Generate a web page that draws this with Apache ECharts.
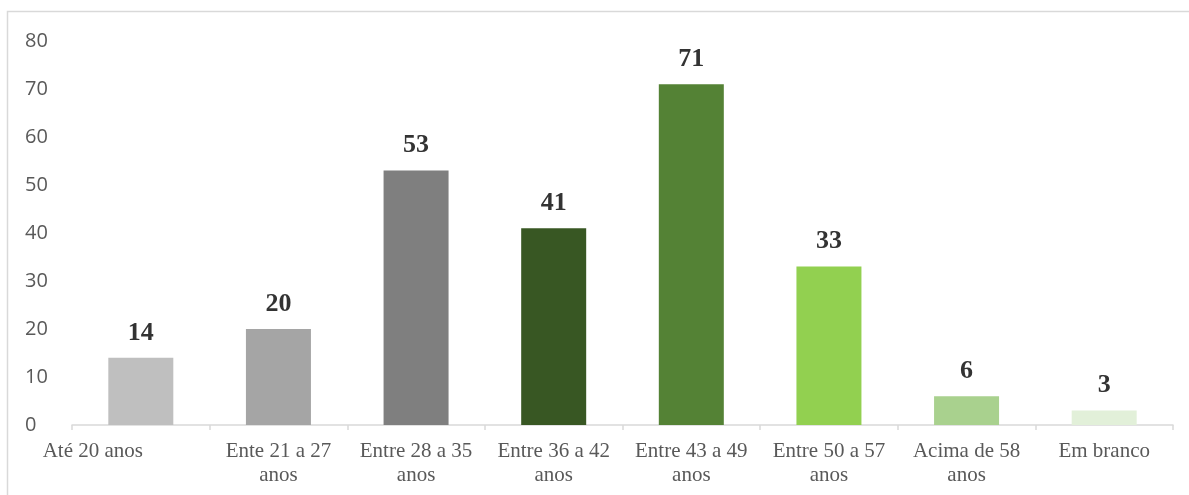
<!DOCTYPE html>
<html>
<head>
<meta charset="utf-8">
<script src="https://cdn.jsdelivr.net/npm/echarts@6/dist/echarts.min.js"></script>
<style>
  html, body { margin: 0; padding: 0; background: #ffffff; }
  #chart { width: 1189px; height: 495px; }
</style>
</head>
<body>
<div id="chart"></div>
<script>
// Faixas etárias e número de respondentes
const categories = [
  'Até 20 anos',
  'Ente 21 a 27 anos',
  'Entre 28 a 35 anos',
  'Entre 36 a 42 anos',
  'Entre 43 a 49 anos',
  'Entre 50 a 57 anos',
  'Acima de 58 anos',
  'Em branco'
];
const values = [14, 20, 53, 41, 71, 33, 6, 3];
const barColors = ['#BFBFBF', '#A5A5A5', '#7F7F7F', '#385723', '#548235', '#92D050', '#A9D18E', '#E2F0D9'];
const yTicks = { min: 0, max: 80, interval: 10 };

const chart = echarts.init(document.getElementById('chart'), null, { renderer: 'canvas' });

const option = {
  backgroundColor: '#ffffff',
  animation: false,
  graphic: [{
    type: 'rect',
    shape: { x: 7.5, y: 11.5, width: 1300, height: 600 },
    style: { fill: 'none', stroke: '#d9d9d9', lineWidth: 1.5 },
    silent: true,
    z: -1
  }],
  grid: {
    left: 72,
    right: 16,
    top: 41,
    bottom: 70,
    outerBoundsMode: 'none'
  },
  xAxis: {
    type: 'category',
    data: categories,
    axisLine: { show: true, lineStyle: { color: '#d9d9d9', width: 1.5 } },
    axisTick: { show: true, length: 5, lineStyle: { color: '#d9d9d9', width: 1.5 } },
    axisLabel: {
      interval: 0,
      margin: 14,
      color: '#595959',
      fontFamily: 'Liberation Serif',
      fontSize: 21,
      lineHeight: 24,
      formatter: function (v, i) {
        const txt = v.length > 12 ? v.replace(/ anos$/, '\nanos') : v;
        return i === 0 ? '{first|' + txt + '}' : txt;
      },
      rich: {
        first: {
          color: '#595959',
          fontFamily: 'Liberation Serif',
          fontSize: 21,
          lineHeight: 24,
          padding: [0, 96, 0, 0]
        }
      }
    }
  },
  yAxis: {
    type: 'value',
    min: yTicks.min,
    max: yTicks.max,
    interval: yTicks.interval,
    axisLine: { show: false },
    axisTick: { show: false },
    splitLine: { show: false },
    axisLabel: {
      align: 'left',
      margin: 47,
      color: '#595959',
      fontFamily: 'Open Sans',
      fontSize: 20
    }
  },
  series: [{
    type: 'bar',
    data: values.map((v, i) => ({ value: v, itemStyle: { color: barColors[i] } })),
    barWidth: 65,
    label: {
      show: true,
      position: 'top',
      distance: 12,
      color: '#333333',
      fontFamily: 'Liberation Serif',
      fontWeight: 'bold',
      fontSize: 26
    }
  }]
};

chart.setOption(option);
</script>
</body>
</html>
